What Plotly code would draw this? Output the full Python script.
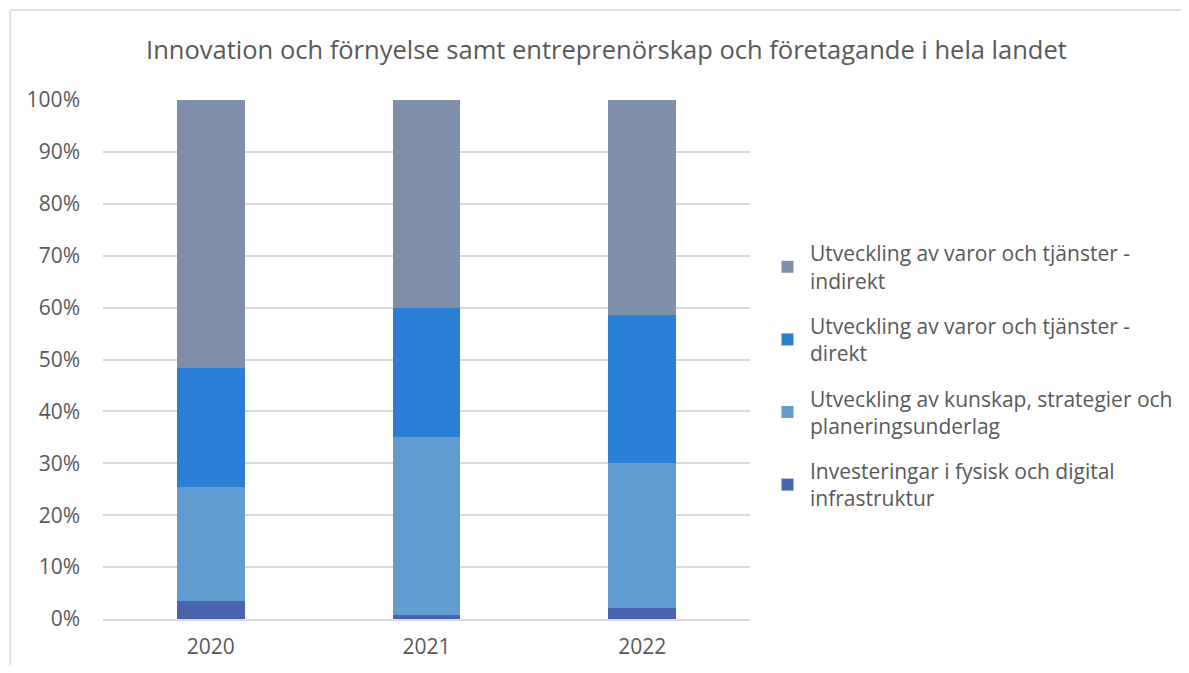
import plotly.graph_objects as go

years = ["2020", "2021", "2022"]
series_names = [
    "Investeringar i fysisk och digital<br>infrastruktur",
    "Utveckling av kunskap, strategier och<br>planeringsunderlag",
    "Utveckling av varor och tjänster -<br>direkt",
    "Utveckling av varor och tjänster -<br>indirekt",
]
investeringar = [3.5, 0.8, 2.1]
kunskap = [22.0, 34.2, 27.9]
direkt = [22.9, 25.0, 28.5]
indirekt = [51.6, 40.0, 41.5]
colors = ["#4864AD", "#619DD0", "#2A7ED4", "#7F8FA9"]
y_ticks = [0, 10, 20, 30, 40, 50, 60, 70, 80, 90, 100]
y_tick_labels = [f"{v}%" for v in y_ticks]

# page has an 8px body margin; compensate so plot lands where reference has it
L, T, PW, PH = 95, 92, 648, 519
W, H = 1181, 657

fig = go.Figure()
for i, (name, vals, col) in enumerate(zip(series_names, [investeringar, kunskap, direkt, indirekt], colors)):
    fig.add_trace(go.Bar(x=years, y=vals, name=name, marker=dict(color=col, line=dict(width=0)),
                         legendgroup=name, legendrank=10 - i))

font_family = "Open Sans, Noto Sans, sans-serif"
border = dict(color="#D9D9D9", width=1.5)
fig.update_layout(
    barmode="stack",
    bargap=0.685,
    width=W, height=H,
    margin=dict(l=L, r=W - L - PW, t=T, b=H - T - PH),
    paper_bgcolor="white", plot_bgcolor="white",
    font=dict(family=font_family, size=21, color="#595959"),
    title=dict(text="Innovation och förnyelse samt entreprenörskap och företagande i hela landet",
               x=(598.5) / W, xanchor="center", xref="container", y=1 - 42 / H, yanchor="middle",
               font=dict(size=25.5, color="#595959", family=font_family)),
    showlegend=True,
    legend=dict(traceorder="grouped", x=(662) / PW, xanchor="left", y=(611 - 368) / PH, yanchor="middle",
                font=dict(size=21, color="#595959", family=font_family),
                tracegroupgap=15, itemwidth=35),
    yaxis=dict(range=[0, 100], tickvals=y_ticks, ticktext=y_tick_labels, showgrid=True,
               gridcolor="#D9D9D9", gridwidth=1.5, zeroline=False, ticks="", ticklen=0,
               showline=False, automargin=False, ticklabelstandoff=22),
    xaxis=dict(showline=True, linecolor="#D9D9D9", linewidth=1.5, ticks="", automargin=False,
               ticklabelstandoff=8),
    shapes=[
        dict(type="line", xref="paper", yref="paper",
             x0=(2 - L) / PW, x1=(1200 - L) / PW, y0=(T + PH - 2) / PH, y1=(T + PH - 2) / PH,
             line=border, layer="below"),
        dict(type="line", xref="paper", yref="paper",
             x0=(2 - L) / PW, x1=(2 - L) / PW, y0=(T + PH - 700) / PH, y1=(T + PH - 2) / PH,
             line=border, layer="below"),
    ],
)
fig.write_html("out.html")
